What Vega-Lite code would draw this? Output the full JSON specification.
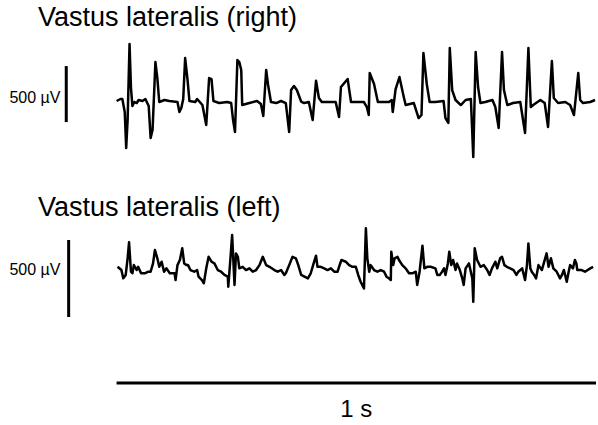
{
  "$schema": "https://vega.github.io/schema/vega-lite/v6.json",
  "width": 598,
  "height": 425,
  "autosize": {"type": "fit", "contains": "padding"},
  "padding": 0,
  "background": "white",
  "config": {"view": {"stroke": null}},
  "datasets": {
    "right": [{"t":0,"v":0},{"t":8,"v":18},{"t":12,"v":18},{"t":17,"v":-98},{"t":20,"v":-420},{"t":23,"v":-170},{"t":27,"v":509},{"t":30,"v":116},{"t":33,"v":-45},{"t":37,"v":-9},{"t":42,"v":-18},{"t":46,"v":9},{"t":54,"v":0},{"t":60,"v":18},{"t":67,"v":-45},{"t":71,"v":-330},{"t":75,"v":-259},{"t":81,"v":348},{"t":85,"v":205},{"t":89,"v":-9},{"t":100,"v":9},{"t":110,"v":0},{"t":127,"v":-9},{"t":131,"v":-98},{"t":135,"v":-63},{"t":139,"v":18},{"t":143,"v":384},{"t":148,"v":188},{"t":152,"v":0},{"t":164,"v":-9},{"t":168,"v":18},{"t":179,"v":-36},{"t":187,"v":-214},{"t":193,"v":205},{"t":198,"v":196},{"t":202,"v":0},{"t":214,"v":-18},{"t":231,"v":-9},{"t":239,"v":-18},{"t":243,"v":-170},{"t":247,"v":-277},{"t":252,"v":366},{"t":256,"v":348},{"t":260,"v":277},{"t":262,"v":-36},{"t":277,"v":-18},{"t":293,"v":0},{"t":301,"v":-27},{"t":306,"v":-134},{"t":312,"v":277},{"t":316,"v":143},{"t":322,"v":-9},{"t":333,"v":-18},{"t":343,"v":0},{"t":353,"v":-18},{"t":360,"v":-277},{"t":364,"v":98},{"t":370,"v":134},{"t":376,"v":98},{"t":385,"v":-6},{"t":391,"v":-18},{"t":401,"v":-9},{"t":409,"v":-170},{"t":416,"v":181},{"t":422,"v":27},{"t":428,"v":-9},{"t":457,"v":-9},{"t":464,"v":-143},{"t":468,"v":125},{"t":482,"v":196},{"t":489,"v":-9},{"t":516,"v":-9},{"t":522,"v":-54},{"t":526,"v":-125},{"t":528,"v":250},{"t":537,"v":152},{"t":545,"v":-9},{"t":568,"v":-9},{"t":574,"v":9},{"t":576,"v":-98},{"t":582,"v":107},{"t":590,"v":214},{"t":599,"v":36},{"t":603,"v":-36},{"t":620,"v":-18},{"t":630,"v":-152},{"t":636,"v":-125},{"t":640,"v":429},{"t":647,"v":152},{"t":653,"v":-9},{"t":665,"v":-9},{"t":682,"v":0},{"t":686,"v":-152},{"t":692,"v":-196},{"t":695,"v":473},{"t":700,"v":98},{"t":707,"v":9},{"t":718,"v":-36},{"t":728,"v":9},{"t":739,"v":18},{"t":744,"v":-500},{"t":749,"v":438},{"t":754,"v":125},{"t":759,"v":-18},{"t":769,"v":-9},{"t":784,"v":9},{"t":790,"v":-54},{"t":797,"v":-241},{"t":804,"v":438},{"t":808,"v":98},{"t":815,"v":-36},{"t":827,"v":-18},{"t":842,"v":-9},{"t":852,"v":-286},{"t":859,"v":473},{"t":864,"v":-54},{"t":869,"v":-36},{"t":884,"v":9},{"t":893,"v":-18},{"t":900,"v":-232},{"t":908,"v":357},{"t":912,"v":27},{"t":921,"v":-18},{"t":936,"v":-9},{"t":946,"v":-36},{"t":954,"v":-125},{"t":963,"v":250},{"t":967,"v":9},{"t":973,"v":-18},{"t":988,"v":-9},{"t":998,"v":9}],
    "left": [{"t":2,"v":21},{"t":10,"v":0},{"t":14,"v":-54},{"t":19,"v":-32},{"t":23,"v":76},{"t":26,"v":180},{"t":30,"v":-11},{"t":33,"v":-21},{"t":36,"v":32},{"t":42,"v":0},{"t":45,"v":21},{"t":51,"v":-21},{"t":59,"v":-21},{"t":66,"v":-11},{"t":71,"v":-11},{"t":76,"v":43},{"t":80,"v":130},{"t":85,"v":76},{"t":89,"v":21},{"t":94,"v":54},{"t":99,"v":-11},{"t":104,"v":11},{"t":111,"v":-21},{"t":121,"v":-21},{"t":123,"v":-65},{"t":127,"v":32},{"t":132,"v":65},{"t":137,"v":141},{"t":141,"v":43},{"t":146,"v":32},{"t":149,"v":32},{"t":154,"v":0},{"t":162,"v":-11},{"t":168,"v":0},{"t":171,"v":-43},{"t":178,"v":-65},{"t":182,"v":-86},{"t":187,"v":11},{"t":192,"v":86},{"t":198,"v":54},{"t":204,"v":43},{"t":211,"v":0},{"t":218,"v":-11},{"t":225,"v":-32},{"t":232,"v":-43},{"t":233,"v":-108},{"t":238,"v":97},{"t":241,"v":227},{"t":243,"v":97},{"t":246,"v":-97},{"t":249,"v":108},{"t":253,"v":86},{"t":256,"v":11},{"t":263,"v":21},{"t":270,"v":0},{"t":277,"v":11},{"t":284,"v":-11},{"t":291,"v":0},{"t":298,"v":32},{"t":305,"v":86},{"t":312,"v":32},{"t":319,"v":21},{"t":329,"v":0},{"t":336,"v":-11},{"t":343,"v":0},{"t":350,"v":-32},{"t":353,"v":-21},{"t":360,"v":32},{"t":367,"v":86},{"t":374,"v":76},{"t":379,"v":32},{"t":385,"v":-32},{"t":392,"v":-43},{"t":399,"v":-54},{"t":405,"v":-21},{"t":411,"v":43},{"t":416,"v":93},{"t":419,"v":21},{"t":426,"v":21},{"t":433,"v":11},{"t":440,"v":0},{"t":447,"v":11},{"t":454,"v":-11},{"t":461,"v":-11},{"t":464,"v":21},{"t":469,"v":65},{"t":478,"v":54},{"t":485,"v":32},{"t":492,"v":21},{"t":499,"v":21},{"t":504,"v":-32},{"t":509,"v":-76},{"t":516,"v":-119},{"t":520,"v":271},{"t":523,"v":76},{"t":527,"v":-11},{"t":530,"v":32},{"t":537,"v":0},{"t":544,"v":-11},{"t":551,"v":0},{"t":558,"v":-11},{"t":563,"v":-43},{"t":568,"v":-54},{"t":572,"v":-65},{"t":573,"v":119},{"t":577,"v":32},{"t":580,"v":76},{"t":586,"v":86},{"t":589,"v":65},{"t":596,"v":32},{"t":603,"v":11},{"t":610,"v":-21},{"t":617,"v":-21},{"t":624,"v":-11},{"t":627,"v":-97},{"t":632,"v":-11},{"t":638,"v":158},{"t":642,"v":11},{"t":648,"v":21},{"t":655,"v":21},{"t":665,"v":11},{"t":669,"v":-32},{"t":674,"v":-32},{"t":679,"v":-11},{"t":683,"v":11},{"t":686,"v":-32},{"t":691,"v":43},{"t":694,"v":119},{"t":698,"v":32},{"t":702,"v":65},{"t":707,"v":0},{"t":710,"v":43},{"t":716,"v":0},{"t":721,"v":-54},{"t":724,"v":-97},{"t":728,"v":11},{"t":735,"v":43},{"t":742,"v":-54},{"t":744,"v":-206},{"t":747,"v":141},{"t":752,"v":65},{"t":759,"v":21},{"t":766,"v":32},{"t":773,"v":0},{"t":778,"v":-32},{"t":783,"v":11},{"t":790,"v":54},{"t":794,"v":11},{"t":800,"v":76},{"t":804,"v":86},{"t":809,"v":32},{"t":814,"v":21},{"t":821,"v":11},{"t":828,"v":0},{"t":834,"v":-32},{"t":838,"v":-11},{"t":846,"v":11},{"t":852,"v":-65},{"t":856,"v":32},{"t":859,"v":173},{"t":863,"v":11},{"t":866,"v":-11},{"t":871,"v":-32},{"t":875,"v":-54},{"t":880,"v":32},{"t":887,"v":0},{"t":894,"v":76},{"t":897,"v":108},{"t":901,"v":21},{"t":906,"v":76},{"t":911,"v":11},{"t":918,"v":-11},{"t":925,"v":-54},{"t":929,"v":-32},{"t":933,"v":0},{"t":939,"v":-76},{"t":943,"v":-11},{"t":946,"v":32},{"t":952,"v":11},{"t":956,"v":65},{"t":959,"v":43},{"t":961,"v":0},{"t":970,"v":0},{"t":977,"v":-11},{"t":988,"v":11},{"t":994,"v":21}]
  },
  "layer": [
    {
      "data": {"name": "right"},
      "mark": {"type": "line", "color": "black", "strokeWidth": 2.5, "strokeJoin": "round"},
      "encoding": {
        "x": {"field": "t", "type": "quantitative", "scale": {"domain": [-243.2, 1000], "nice": false, "zero": false}, "axis": null},
        "y": {"field": "v", "type": "quantitative", "scale": {"domain": [-2893, 902], "nice": false, "zero": false}, "axis": null}
      }
    },
    {
      "data": {"name": "left"},
      "mark": {"type": "line", "color": "black", "strokeWidth": 2.5, "strokeJoin": "round"},
      "encoding": {
        "x": {"field": "t", "type": "quantitative", "scale": {"domain": [-243.2, 1000], "nice": false, "zero": false}, "axis": null},
        "y": {"field": "v", "type": "quantitative", "scale": {"domain": [-1006, 1753], "nice": false, "zero": false}, "axis": null}
      }
    },
    {
      "data": {"values": [{"t": -105, "v1": -188, "v2": 312}]},
      "mark": {"type": "rule", "color": "black", "strokeWidth": 3},
      "encoding": {
        "x": {"field": "t", "type": "quantitative", "scale": {"domain": [-243.2, 1000], "nice": false, "zero": false}, "axis": null},
        "y": {"field": "v1", "type": "quantitative", "scale": {"domain": [-2893, 902], "nice": false, "zero": false}, "axis": null},
        "y2": {"field": "v2"}
      }
    },
    {
      "data": {"values": [{"t": -100, "v1": -305, "v2": 195}]},
      "mark": {"type": "rule", "color": "black", "strokeWidth": 3},
      "encoding": {
        "x": {"field": "t", "type": "quantitative", "scale": {"domain": [-243.2, 1000], "nice": false, "zero": false}, "axis": null},
        "y": {"field": "v1", "type": "quantitative", "scale": {"domain": [-1006, 1753], "nice": false, "zero": false}, "axis": null},
        "y2": {"field": "v2"}
      }
    },
    {
      "data": {"values": [{"t1": 0, "t2": 1000, "v": -2518}]},
      "mark": {"type": "rule", "color": "black", "strokeWidth": 3},
      "encoding": {
        "x": {"field": "t1", "type": "quantitative", "scale": {"domain": [-243.2, 1000], "nice": false, "zero": false}, "axis": null},
        "x2": {"field": "t2"},
        "y": {"field": "v", "type": "quantitative", "scale": {"domain": [-2893, 902], "nice": false, "zero": false}, "axis": null}
      }
    },
    {
      "data": {"values": [{"t": -164, "v": 741, "label": "Vastus lateralis (right)"}, {"t": -164, "v": -955, "label": "Vastus lateralis (left)"}]},
      "mark": {"type": "text", "align": "left", "baseline": "middle", "font": "Liberation Sans", "fontSize": 27, "color": "black"},
      "encoding": {
        "x": {"field": "t", "type": "quantitative", "scale": {"domain": [-243.2, 1000], "nice": false, "zero": false}, "axis": null},
        "y": {"field": "v", "type": "quantitative", "scale": {"domain": [-2893, 902], "nice": false, "zero": false}, "axis": null},
        "text": {"field": "label"}
      }
    },
    {
      "data": {"values": [{"t": 500, "v": -2759, "label": "1 s"}]},
      "mark": {"type": "text", "align": "center", "baseline": "middle", "font": "Liberation Sans", "fontSize": 24, "color": "black"},
      "encoding": {
        "x": {"field": "t", "type": "quantitative", "scale": {"domain": [-243.2, 1000], "nice": false, "zero": false}, "axis": null},
        "y": {"field": "v", "type": "quantitative", "scale": {"domain": [-2893, 902], "nice": false, "zero": false}, "axis": null},
        "text": {"field": "label"}
      }
    },
    {
      "data": {"values": [{"t": -117, "v": 27, "label": "500 µV"}]},
      "mark": {"type": "text", "align": "right", "baseline": "middle", "font": "Liberation Sans", "fontSize": 16, "color": "black"},
      "encoding": {
        "x": {"field": "t", "type": "quantitative", "scale": {"domain": [-243.2, 1000], "nice": false, "zero": false}, "axis": null},
        "y": {"field": "v", "type": "quantitative", "scale": {"domain": [-2893, 902], "nice": false, "zero": false}, "axis": null},
        "text": {"field": "label"}
      }
    },
    {
      "data": {"values": [{"t": -117, "v": 0, "label": "500 µV"}]},
      "mark": {"type": "text", "align": "right", "baseline": "middle", "font": "Liberation Sans", "fontSize": 16, "color": "black"},
      "encoding": {
        "x": {"field": "t", "type": "quantitative", "scale": {"domain": [-243.2, 1000], "nice": false, "zero": false}, "axis": null},
        "y": {"field": "v", "type": "quantitative", "scale": {"domain": [-1006, 1753], "nice": false, "zero": false}, "axis": null},
        "text": {"field": "label"}
      }
    }
  ],
  "resolve": {"scale": {"y": "independent"}}
}
